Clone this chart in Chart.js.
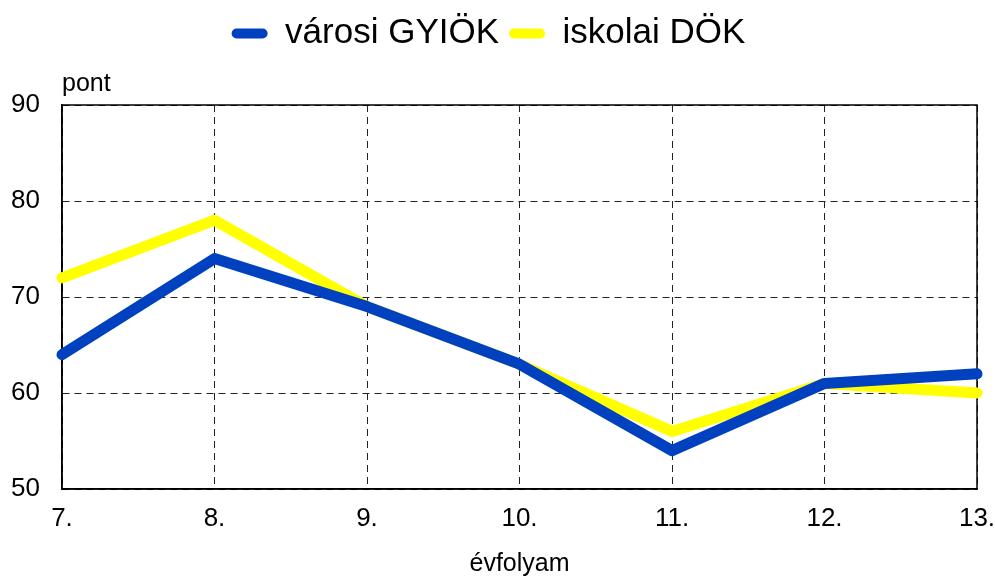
<!DOCTYPE html>
<html>
<head>
<meta charset="utf-8">
<script src="https://cdn.jsdelivr.net/npm/chart.js@4/dist/chart.umd.min.js"></script>
<style>
  html, body { margin: 0; padding: 0; background: #fff; }
  #wrap { width: 995px; height: 579px; }
</style>
</head>
<body>
<div id="wrap"><canvas id="chart" width="995" height="579"></canvas></div>
<script>
const grades = ['7.', '8.', '9.', '10.', '11.', '12.', '13.'];
const cityValues = [64, 74, 69, 63, 54, 61, 62];
const schoolValues = [72, 78, 69, 63, 56, 61, 60];
const seriesNames = ['városi GYIÖK', 'iskolai DÖK'];
const yMin = 50;
const yMax = 90;
const yStep = 10;

const FONT = "'Liberation Sans', Arial, sans-serif";

// push the plot area down below the legend
const legendGap = {
    id: 'legendGap',
    beforeInit(chart) {
        const fit = chart.legend.fit;
        chart.legend.fit = function () {
            fit.bind(chart.legend)();
            this.height += 44;
        };
    }
};

// solid frame around the plot area + the "pont" unit label
const frame = {
    id: 'frame',
    beforeDatasetsDraw(chart) {
        const { ctx, chartArea } = chart;
        ctx.save();
        ctx.strokeStyle = '#000';
        ctx.lineWidth = 1.5;
        ctx.strokeRect(chartArea.left, chartArea.top, chartArea.right - chartArea.left, chartArea.bottom - chartArea.top);
        ctx.fillStyle = '#000';
        ctx.font = '25px ' + FONT;
        ctx.textAlign = 'left';
        ctx.textBaseline = 'alphabetic';
        ctx.fillText('pont', chartArea.left, chartArea.top - 14);
        ctx.restore();
    }
};

new Chart(document.getElementById('chart').getContext('2d'), {
    type: 'line',
    data: {
        labels: grades,
        datasets: [
            {
                label: seriesNames[0],
                data: cityValues,
                borderColor: '#0041C0',
                backgroundColor: '#0041C0',
                borderWidth: 11,
                borderCapStyle: 'round',
                borderJoinStyle: 'round',
                pointRadius: 0,
                tension: 0,
                clip: false
            },
            {
                label: seriesNames[1],
                data: schoolValues,
                borderColor: '#FFFF00',
                backgroundColor: '#FFFF00',
                borderWidth: 11,
                borderCapStyle: 'round',
                borderJoinStyle: 'round',
                pointRadius: 0,
                tension: 0,
                clip: false
            }
        ]
    },
    options: {
        responsive: false,
        animation: false,
        layout: { padding: { top: 6, left: 0, right: 18, bottom: 0 } },
        plugins: {
            tooltip: { enabled: false },
            legend: {
                display: true,
                position: 'top',
                labels: {
                    color: '#000',
                    font: { size: 35, family: FONT },
                    boxWidth: 36,
                    boxHeight: 10,
                    useBorderRadius: true,
                    borderRadius: 5,
                    padding: 10,
                    generateLabels(chart) {
                        return chart.data.datasets.map((ds, i) => ({
                            text: ds.label,
                            fillStyle: ds.borderColor,
                            strokeStyle: ds.borderColor,
                            lineWidth: 0,
                            borderRadius: 5,
                            fontColor: '#000',
                            datasetIndex: i,
                            hidden: false
                        }));
                    }
                }
            }
        },
        scales: {
            x: {
                type: 'category',
                offset: false,
                grid: {
                    color: '#222',
                    lineWidth: 1,
                    drawTicks: false
                },
                border: { display: true, color: '#000', width: 1.5, dash: [7, 5] },
                ticks: {
                    color: '#000',
                    font: { size: 26, family: FONT },
                    padding: 14,
                    maxRotation: 0,
                    autoSkip: false
                },
                title: {
                    display: true,
                    text: 'évfolyam',
                    color: '#000',
                    font: { size: 25, family: FONT },
                    padding: { top: 10, bottom: 0 }
                },
                afterFit(axis) {
                    axis.height = 90;
                    axis.paddingRight = 0;
                    axis.paddingLeft = 0;
                }
            },
            y: {
                min: yMin,
                max: yMax,
                grid: {
                    color: '#222',
                    lineWidth: 1,
                    drawTicks: false
                },
                border: { display: true, color: '#000', width: 1.5, dash: [7, 5] },
                ticks: {
                    stepSize: yStep,
                    color: '#000',
                    font: { size: 26, family: FONT },
                    padding: 22
                },
                afterFit(axis) { axis.width = 62; }
            }
        }
    },
    plugins: [legendGap, frame]
});
</script>
</body>
</html>
